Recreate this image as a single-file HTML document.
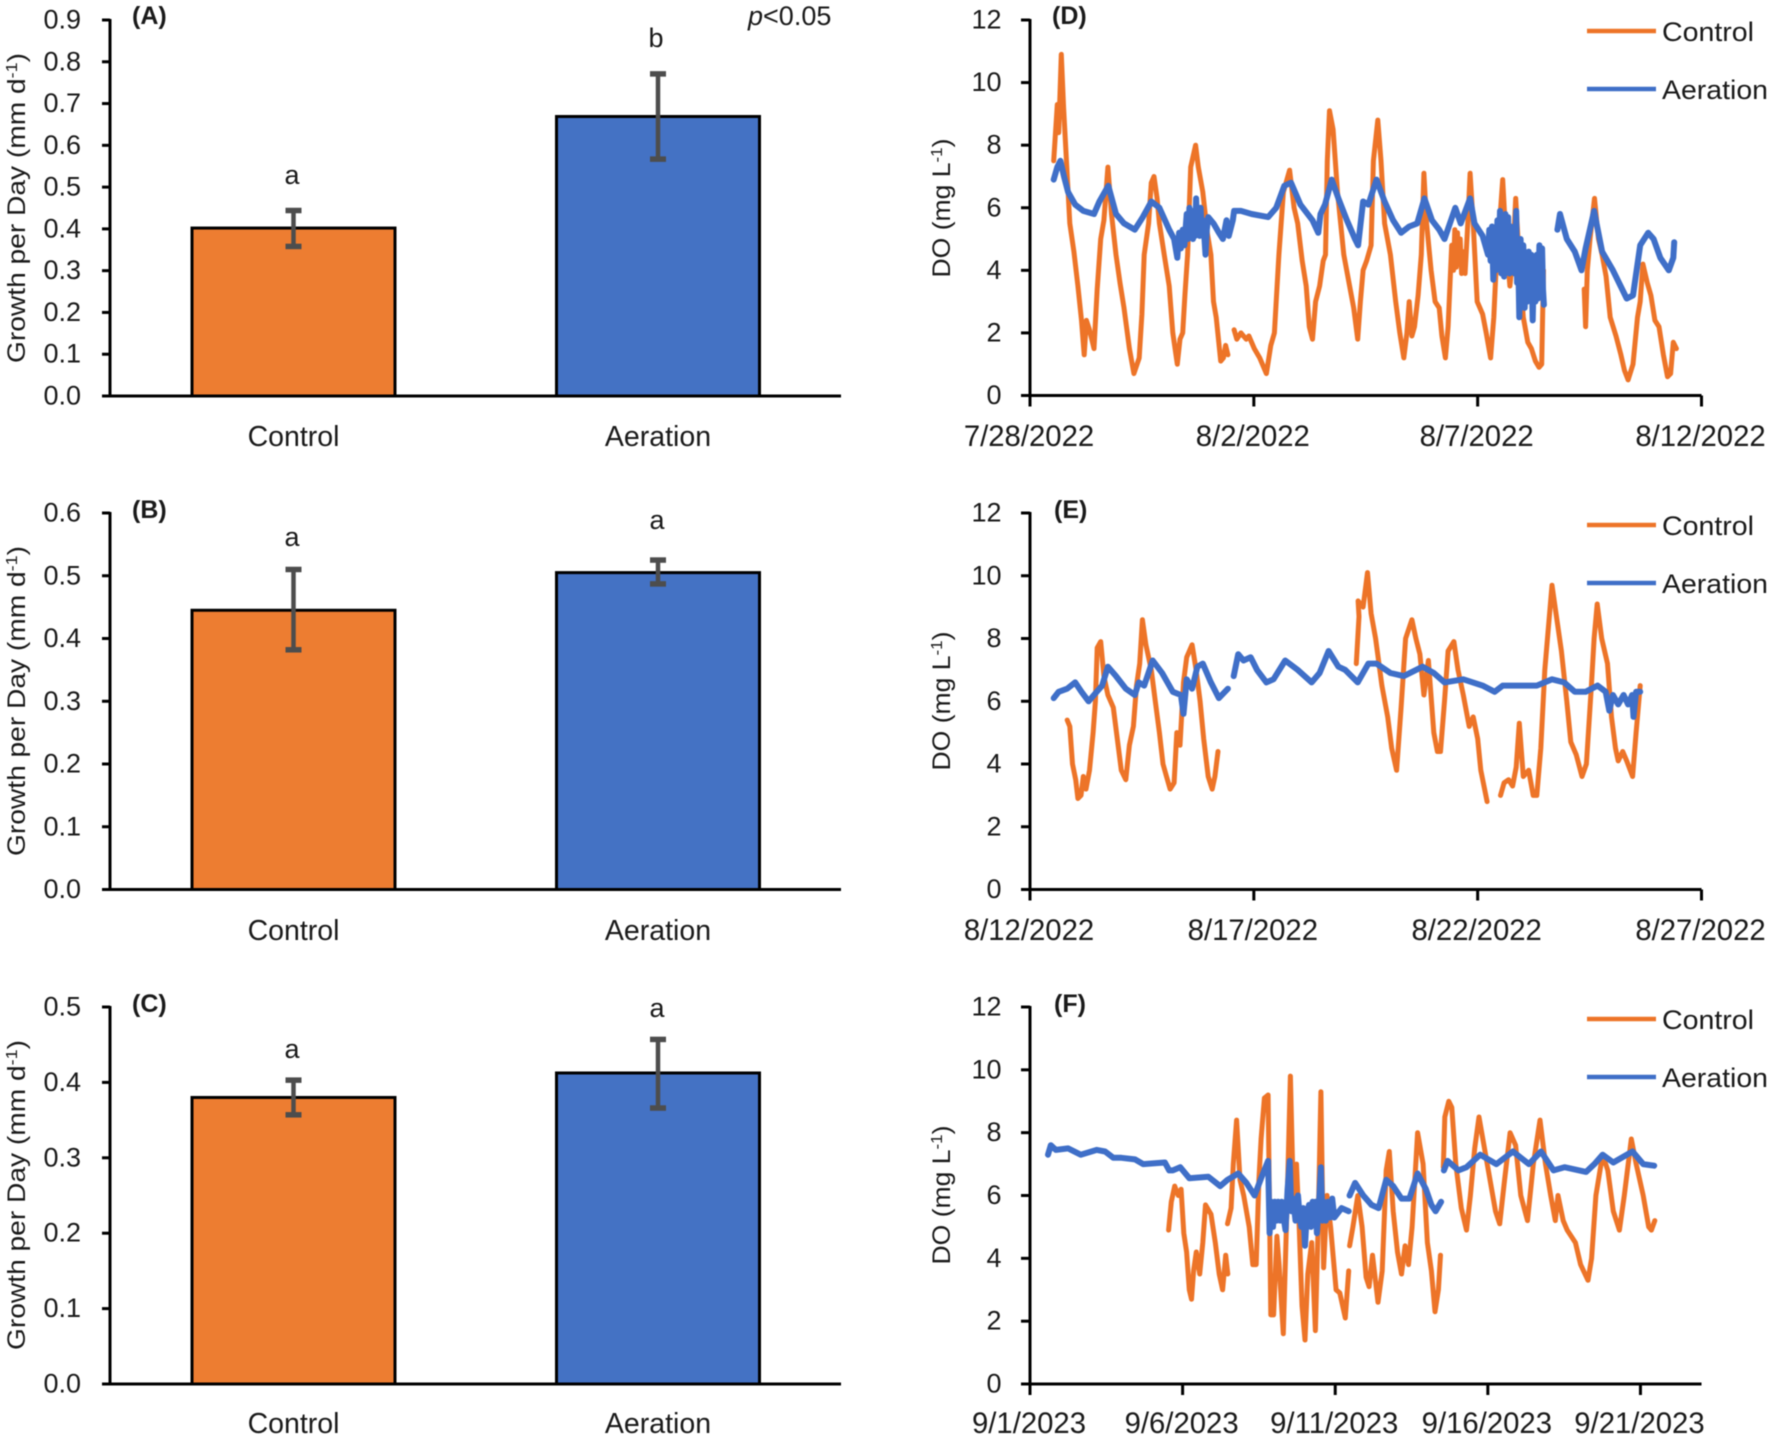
<!DOCTYPE html>
<html lang="en">
<head>
<meta charset="utf-8">
<title>Growth per day and dissolved oxygen, control vs aeration</title>
<style>
html,body{margin:0;padding:0;background:#fff;}
svg{display:block;filter:blur(0.45px);}
text{font-family:"Liberation Sans",sans-serif;fill:#1a1a1a;}
.lbl{font-size:27px;}
.panel{font-size:25px;font-weight:bold;}
.title{font-size:25px;}
</style>
</head>
<body>
<svg id="figure" xmlns="http://www.w3.org/2000/svg" width="1772" height="1442" viewBox="0 0 1772 1442">
<rect x="0" y="0" width="1772" height="1442" fill="#ffffff"/>

<g id="panel-a">
<text class="panel" x="132" y="24">(A)</text>
<text class="title" transform="translate(25,208) rotate(-90)" text-anchor="middle" textLength="310" lengthAdjust="spacingAndGlyphs">Growth per Day (mm d<tspan dy="-8" font-size="16">-1</tspan><tspan dy="8">)</tspan></text>
<text class="lbl" x="292" y="184" text-anchor="middle">a</text>
<text class="lbl" x="656" y="47" text-anchor="middle">b</text>
<text class="lbl" x="748" y="25"><tspan font-style="italic">p</tspan>&lt;0.05</text>
</g>

<g id="panel-b">
<text class="panel" x="132" y="518">(B)</text>
<text class="title" transform="translate(25,701) rotate(-90)" text-anchor="middle" textLength="310" lengthAdjust="spacingAndGlyphs">Growth per Day (mm d<tspan dy="-8" font-size="16">-1</tspan><tspan dy="8">)</tspan></text>
<text class="lbl" x="292" y="546" text-anchor="middle">a</text>
<text class="lbl" x="657" y="529" text-anchor="middle">a</text>
</g>

<g id="panel-c">
<text class="panel" x="132" y="1012">(C)</text>
<text class="title" transform="translate(25,1195) rotate(-90)" text-anchor="middle" textLength="310" lengthAdjust="spacingAndGlyphs">Growth per Day (mm d<tspan dy="-8" font-size="16">-1</tspan><tspan dy="8">)</tspan></text>
<text class="lbl" x="292" y="1058" text-anchor="middle">a</text>
<text class="lbl" x="657" y="1017" text-anchor="middle">a</text>
</g>

<g id="panel-d">
<text class="panel" x="1052" y="24">(D)</text>
<text class="title" transform="translate(950,208) rotate(-90)" text-anchor="middle" textLength="139" lengthAdjust="spacingAndGlyphs">DO (mg L<tspan dy="-8" font-size="16">-1</tspan><tspan dy="8">)</tspan></text>
<line x1="1587" x2="1656" y1="31" y2="31" stroke="#ed7428" stroke-width="4.5"/>
<text class="lbl" x="1662" y="41" textLength="92" lengthAdjust="spacingAndGlyphs">Control</text>
<line x1="1587" x2="1656" y1="89" y2="89" stroke="#3f6fc8" stroke-width="4.5"/>
<text class="lbl" x="1662" y="99" textLength="106" lengthAdjust="spacingAndGlyphs">Aeration</text>
</g>

<g id="panel-e">
<text class="panel" x="1054" y="518">(E)</text>
<text class="title" transform="translate(950,701) rotate(-90)" text-anchor="middle" textLength="139" lengthAdjust="spacingAndGlyphs">DO (mg L<tspan dy="-8" font-size="16">-1</tspan><tspan dy="8">)</tspan></text>
<line x1="1587" x2="1656" y1="525" y2="525" stroke="#ed7428" stroke-width="4.5"/>
<text class="lbl" x="1662" y="535" textLength="92" lengthAdjust="spacingAndGlyphs">Control</text>
<line x1="1587" x2="1656" y1="583" y2="583" stroke="#3f6fc8" stroke-width="4.5"/>
<text class="lbl" x="1662" y="593" textLength="106" lengthAdjust="spacingAndGlyphs">Aeration</text>
</g>

<g id="panel-f">
<text class="panel" x="1054" y="1012">(F)</text>
<text class="title" transform="translate(950,1195) rotate(-90)" text-anchor="middle" textLength="139" lengthAdjust="spacingAndGlyphs">DO (mg L<tspan dy="-8" font-size="16">-1</tspan><tspan dy="8">)</tspan></text>
<line x1="1587" x2="1656" y1="1019" y2="1019" stroke="#ed7428" stroke-width="4.5"/>
<text class="lbl" x="1662" y="1029" textLength="92" lengthAdjust="spacingAndGlyphs">Control</text>
<line x1="1587" x2="1656" y1="1077" y2="1077" stroke="#3f6fc8" stroke-width="4.5"/>
<text class="lbl" x="1662" y="1087" textLength="106" lengthAdjust="spacingAndGlyphs">Aeration</text>
</g>
</svg>

<script>
// ---------- Bar chart data ----------
const barCategories = ['Control', 'Aeration'];

const panelATicks = [0.0, 0.1, 0.2, 0.3, 0.4, 0.5, 0.6, 0.7, 0.8, 0.9];
const panelAMeans = [0.402, 0.669];
const panelALower = [0.358, 0.567];
const panelAUpper = [0.444, 0.771];

const panelBTicks = [0.0, 0.1, 0.2, 0.3, 0.4, 0.5, 0.6];
const panelBMeans = [0.445, 0.505];
const panelBLower = [0.382, 0.487];
const panelBUpper = [0.51, 0.525];

const panelCTicks = [0.0, 0.1, 0.2, 0.3, 0.4, 0.5];
const panelCMeans = [0.38, 0.4125];
const panelCLower = [0.357, 0.366];
const panelCUpper = [0.403, 0.457];

// ---------- Dissolved oxygen data (days since axis start, mg/L; null = logger gap) ----------
const doTicks = [0, 2, 4, 6, 8, 10, 12];

const panelDDateLabels = ['7/28/2022', '8/2/2022', '8/7/2022', '8/12/2022'];
const panelEDateLabels = ['8/12/2022', '8/17/2022', '8/22/2022', '8/27/2022'];
const panelFDateLabels = ['9/1/2023', '9/6/2023', '9/11/2023', '9/16/2023', '9/21/2023'];

const panelDControlDays = [0.53,0.61,0.64,0.70,0.75,0.89,0.98,1.07,1.15,1.21,1.26,1.33,1.43,1.50,1.58,1.65,1.74,1.82,1.92,2.01,2.10,2.22,2.32,2.44,2.50,2.55,2.65,2.71,2.77,2.84,2.89,3.01,3.11,3.19,3.29,3.35,3.41,3.46,3.52,3.59,3.70,3.76,3.86,3.96,4.04,4.10,4.16,4.26,4.32,4.37,4.42,4.50,
4.56,4.62,4.71,4.83,4.89,5.01,5.13,5.28,5.38,5.46,5.56,5.66,5.80,5.90,5.98,6.08,6.17,6.24,6.31,6.38,6.47,6.55,6.60,6.64,6.69,6.77,6.87,7.01,7.14,7.23,7.32,7.38,7.44,7.52,7.62,7.67,7.77,7.84,7.92,8.05,8.17,8.26,8.35,8.42,8.47,8.53,8.59,8.67,8.74,8.80,8.86,8.96,9.05,9.14,9.20,9.28,9.34,9.42,9.46,9.49,9.52,9.55,9.58,9.61,9.64,9.67,9.72,9.78,9.83,9.90,9.99,10.11,10.19,10.29,10.36,10.41,10.49,10.56,10.63,10.72,10.79,10.85,10.92,11.02,11.12,11.20,11.29,11.37,11.43,11.47,12.0,
12.38,12.41,12.45,12.51,12.61,12.70,12.78,12.87,12.96,13.09,13.20,13.28,13.36,13.47,13.57,13.63,13.69,13.79,13.87,13.96,14.05,14.15,14.24,14.31,14.37,14.44];
const panelDControlValues = [7.5,9.3,8.4,10.9,9.2,5.5,4.6,3.5,2.4,1.3,2.4,2.1,1.5,3.4,5,5.6,7.3,5.8,4.5,3.6,2.8,1.5,0.7,1.2,2.6,4.5,5.5,6.8,7.0,6.3,5.5,4.4,3.5,2,1.0,1.8,2.0,3.2,4.5,7.3,8.0,7.3,6.5,5.2,4.5,3,2.5,1.1,1.2,1.6,1.3,null,
2.1,1.8,2,1.8,1.9,1.5,1.2,0.7,1.6,2,4.5,6.5,7.2,6,5.5,4.3,3.5,2.2,1.8,3,3.5,4.3,4.5,7.5,9.1,8.5,6.5,4.5,3.5,2.8,1.8,3,4,4.3,4.8,7.5,8.8,7.5,5.5,4.5,3,2,1.2,2,3,1.9,2.2,3.2,4.5,7.1,5.5,4,3,2.8,1.9,1.2,2.2,4.8,4.0,5.3,4.1,5.2,4.2,5,3.9,4.6,3.9,5.5,7.1,5.5,3,2.6,2,1.2,2.5,4,5.5,6.9,5,3.5,4.5,6.3,4.5,2.5,1.7,1.5,1.1,0.9,1,4,null,
3.4,2.2,4,5,6.3,5,4.5,3.8,2.5,1.9,1.3,0.8,0.5,1,2.5,3,4.2,3.6,3.2,2.4,2.2,1.3,0.6,0.7,1.7,1.5];

const panelDAerationDays = [0.53,0.61,0.68,0.76,0.85,1.01,1.19,1.43,1.55,1.75,1.92,2.10,2.34,2.52,2.71,2.89,3.11,3.22,
3.29,3.33,3.37,3.41,3.45,3.50,3.53,3.56,3.59,3.62,3.64,3.66,3.69,3.71,3.74,3.76,3.79,3.81,3.84,3.86,3.89,3.92,3.95,3.98,
4.10,4.22,4.31,4.39,4.44,4.53,4.56,4.71,4.95,5.32,5.50,5.68,5.83,6.04,6.31,6.44,6.49,6.59,6.74,6.89,7.08,7.26,7.33,7.44,7.56,7.74,7.92,8.11,8.29,8.47,8.65,8.81,8.98,9.14,9.26,9.50,9.62,9.83,9.93,10.11,
10.23,10.26,10.29,10.32,10.35,10.38,10.41,10.44,10.47,10.50,10.53,10.56,10.59,10.62,10.65,10.68,10.71,10.74,10.77,10.80,10.83,10.86,10.88,10.90,10.93,10.96,10.99,11.02,11.05,11.08,11.11,11.14,11.17,11.20,11.23,11.26,11.29,11.32,11.35,11.38,11.41,11.44,11.46,11.48,11.6,
11.78,11.84,11.99,12.17,12.32,12.41,12.60,12.78,13.02,13.33,13.47,13.63,13.81,13.93,14.08,14.27,14.37,14.39];
const panelDAerationValues = [6.9,7.3,7.5,7,6.5,6.1,5.9,5.8,6.2,6.7,5.8,5.5,5.3,5.7,6.2,6,5.3,5,
4.4,5.2,4.7,5.3,4.8,5.8,5.0,6.0,5.2,5.7,5.0,5.9,5.1,6.3,5.2,5.9,5.1,6,5.2,5.6,5.2,4.5,5.3,5.7,
5.5,5.2,5,5.6,5.1,5.6,5.9,5.9,5.8,5.7,6,6.7,6.8,6.1,5.6,5.2,5.8,6.1,6.9,6.3,5.6,5,4.8,6.2,6.1,6.9,6.2,5.6,5.2,5.4,5.5,6.3,5.6,5.3,5,6,5.5,6.3,5.5,5.1,
4.5,5.3,4.3,5.4,3.7,5.0,4.0,5.6,4.2,5.9,3.9,5.6,3.8,5.8,4.0,5.7,3.9,5.4,4.1,5.2,3.9,5.9,3.6,4.8,2.5,5.0,3.2,4.8,2.8,4.5,3.0,4.6,3.3,4.5,2.4,4.3,3.0,4.5,3.1,4.8,3.2,4.7,3.4,2.9,null,
5.3,5.8,5,4.6,4,4.7,5.9,4.6,4,3.1,3.2,4.8,5.2,5,4.4,4,4.4,4.9];

const panelEControlDays = [0.83,0.89,0.95,1.02,1.07,1.14,1.19,1.25,1.33,1.41,1.46,1.50,1.58,1.65,1.74,1.86,1.95,2.04,2.14,2.22,2.31,2.38,2.45,2.51,2.59,2.71,2.80,2.89,2.97,3.05,3.13,3.22,3.28,3.35,3.43,3.50,3.62,3.71,3.80,3.88,3.98,4.07,4.13,4.20,5.5,
7.29,7.35,7.33,7.44,7.54,7.62,7.72,7.86,7.99,8.08,8.19,8.29,8.39,8.53,8.62,8.71,8.80,8.90,9.02,9.10,9.17,9.26,9.34,9.47,9.56,9.68,9.81,9.90,10.0,10.07,10.21,10.4,
10.51,10.59,10.69,10.78,10.86,10.93,11.02,11.14,11.24,11.32,11.41,11.50,11.59,11.66,11.75,11.87,11.99,12.08,12.20,12.33,12.43,12.54,12.60,12.67,12.77,12.90,12.99,13.08,13.14,13.24,13.33,13.46,13.54,13.63];
const panelEControlValues = [5.4,5.2,4,3.5,2.9,3.0,3.6,3.2,3.8,5,6,7.7,7.9,6.8,6.2,5.8,4.8,3.8,3.5,4.6,5.2,6.5,7.2,8.6,7.8,7,6,5,4,3.6,3.2,3.4,5,4.6,6.6,7.4,7.8,7,6,4.8,3.6,3.2,3.6,4.4,null,
7.2,8.7,9.2,9.0,10.1,8.8,8,6.5,5.5,4.5,3.8,5.8,8,8.6,8,7.5,6.2,7.3,5,4.4,4.4,6,7.6,7.9,7,6.2,5.2,5.5,4.8,3.8,2.8,null,
3.0,3.4,3.5,3.3,3.9,5.3,3.6,3.8,3.0,3.0,4.5,7,8.5,9.7,8.8,7.6,6,4.7,4.3,3.6,4,6.5,8,9.1,8,7.2,5.5,4.5,4.1,4.4,4.1,3.6,5,6.5];

const panelEAerationDays = [0.53,0.64,0.83,1.01,1.15,1.31,1.49,1.61,1.74,1.92,2.14,2.34,2.43,2.55,2.74,2.95,3.19,3.37,3.43,3.50,3.62,3.74,3.86,4.04,4.22,4.42,4.5,
4.55,4.65,4.77,4.93,5.07,5.28,5.44,5.70,5.98,6.29,6.47,6.67,6.89,7.04,7.32,7.56,7.74,8.05,8.35,8.77,9.02,9.26,9.68,10.11,10.38,10.56,10.96,11.32,11.66,11.93,12.17,12.41,12.68,12.86,12.94,13.02,13.14,13.26,13.36,13.45,13.48,13.54,13.63];
const panelEAerationValues = [6.1,6.3,6.4,6.6,6.3,6,6.3,6.5,7.1,6.8,6.4,6.2,6.6,6.5,7.3,6.9,6.3,6.2,5.6,6.7,6.4,7.1,7.2,6.6,6.1,6.4,null,
6.8,7.5,7.3,7.4,7,6.6,6.7,7.3,7,6.6,6.9,7.6,7.1,7,6.6,7.2,7.2,6.9,6.8,7.1,6.9,6.6,6.7,6.5,6.3,6.5,6.5,6.5,6.7,6.6,6.3,6.3,6.5,6.3,5.7,6.2,5.9,6.2,5.9,6.2,5.5,6.3,6.3];

const panelFControlDays = [4.54,4.63,4.74,4.86,4.95,5.04,5.13,5.22,5.29,5.36,5.45,5.56,5.66,5.75,5.93,6.07,6.20,6.31,6.41,6.48,6.47,
6.47,6.59,6.66,6.77,6.88,7.00,7.18,7.30,7.41,7.50,7.57,7.68,7.80,7.89,7.98,8.09,8.16,8.30,8.43,8.53,8.64,8.73,8.82,8.91,9.01,9.10,9.23,9.35,9.44,9.53,9.62,9.73,9.85,10.03,10.15,10.33,10.44,10.45,
10.47,10.58,10.74,10.88,11.01,11.11,11.22,11.40,11.54,11.67,11.77,11.90,12.04,12.17,12.29,12.40,12.52,12.70,12.88,13.02,13.15,13.27,13.38,13.45,13.5,
13.54,13.59,13.72,13.82,13.95,14.13,14.30,14.43,14.57,14.71,14.89,15.07,15.25,15.39,15.55,15.73,15.91,16.08,16.30,16.49,16.71,16.89,17.06,17.21,17.30,17.47,17.60,17.87,18.04,18.28,18.40,18.54,18.76,18.93,19.11,19.31,19.47,19.70,19.86,20.09,20.27,20.36,20.47];
const panelFControlValues = [4.9,5.8,6.3,6,6.2,4.8,4.2,3,2.7,3.6,4.2,3.5,4.5,5.7,5.4,4.5,3.5,3,4.1,3.5,null,
5.1,5.6,7,8.4,6.5,6,5,3.8,3.8,6.5,7.8,9.1,9.2,2.2,2.2,4.7,3.8,1.6,6,9.8,5.5,7,5,2.5,1.4,3.5,4.5,1.7,5,9.3,3.7,6,5,3,2.9,2.1,3.6,null,
4.4,5,6,5,3.4,3.1,4.1,2.6,3.6,6.8,7.4,5.5,4.2,3.5,4.4,3.8,5,8,7,4.5,3.6,2.3,3,4.1,null,
6.9,8.5,9,8.8,7,5.6,4.9,6,7.5,8.5,7.5,6.5,5.5,5.1,6.5,8,7.6,6,5.2,7,8.4,7,6,5.2,6,5.2,4.9,4.5,3.8,3.3,4,6,7.3,6.8,5.5,4.9,6,7.8,7,6,5,4.9,5.2];

const panelFAerationDays = [0.59,0.68,0.85,1.25,1.66,2.19,2.46,2.73,2.99,3.44,3.71,4.42,4.56,4.68,4.92,5.22,5.84,6.23,6.47,6.82,7.09,7.36,7.59,
7.80,7.85,7.91,7.96,8.02,8.08,8.13,8.19,8.25,8.31,8.37,8.44,8.51,8.56,8.62,8.70,8.78,8.84,8.89,8.95,9.01,9.07,9.14,9.20,9.26,9.32,9.36,9.40,9.47,9.53,9.58,9.62,9.69,9.76,9.83,9.90,9.97,
10.21,10.44,10.45,
10.47,10.65,10.92,11.19,11.42,11.67,11.90,12.17,12.43,12.70,12.97,13.15,13.29,13.47,13.5,
13.56,13.68,14.04,14.30,14.75,15.28,15.82,16.35,16.74,17.15,17.51,18.22,18.49,18.76,19.11,19.74,20.09,20.45];
const panelFAerationValues = [7.3,7.6,7.45,7.5,7.3,7.45,7.4,7.2,7.2,7.15,7,7.05,6.8,6.8,6.9,6.55,6.6,6.3,6.5,6.7,6.4,6,6.6,
7.1,4.8,5.8,5.0,5.8,5.2,5.8,5.2,5.8,5.3,4.9,6.2,7.1,5.5,5.9,5.2,6,5.3,5,5.6,4.4,5.4,5.7,5,5.8,5.2,5.8,4.8,5.8,6.9,5.2,5.8,5.2,5.8,5.3,5.9,5.3,
5.6,5.5,null,
6,6.4,6,5.7,5.6,6.5,6.3,5.9,5.9,6.7,6.2,5.7,5.5,5.8,null,
6.8,7.1,6.8,6.9,7.3,7,7.4,7,7.4,6.8,6.9,6.75,7,7.3,7.05,7.4,7,6.95];

// ---------- Drawing ----------
const NS = 'http://www.w3.org/2000/svg';
const ORANGE_BAR = '#ed7d31', BLUE_BAR = '#4472c4';
const ORANGE_LINE = '#ed7428', BLUE_LINE = '#3f6fc8';

function make(parent, tag, attrs, content) {
  const node = document.createElementNS(NS, tag);
  for (const k in attrs) node.setAttribute(k, attrs[k]);
  if (content !== undefined) node.textContent = content;
  parent.appendChild(node);
  return node;
}

function linearScale(d0, d1, r0, r1) {
  return function (v) { return r0 + (v - d0) / (d1 - d0) * (r1 - r0); };
}

function drawBarPanel(id, key, ticks, means, lower, upper, yTop, yBase, catBaseline) {
  const g = document.getElementById(id);
  const maxTick = ticks[ticks.length - 1];
  const y = linearScale(0, maxTick, yBase, yTop);
  const bandLeft = [192, 556.5];
  const barWidth = 203;
  const colors = [ORANGE_BAR, BLUE_BAR];

  means.forEach(function (m, i) {
    const bar = make(g, 'rect', {x: bandLeft[i], y: y(m), width: barWidth, height: yBase - y(m), fill: colors[i], stroke: '#000', 'stroke-width': 3});
    
    
  });
  means.forEach(function (m, i) {
    const cx = bandLeft[i] + barWidth / 2;
    const stem = make(g, 'line', {x1: cx, x2: cx, y1: y(lower[i]), y2: y(upper[i]), stroke: '#4d4d4d', 'stroke-width': 4.5});
    
    
    [lower[i], upper[i]].forEach(function (v) {
      const cap = make(g, 'line', {x1: cx - 8, x2: cx + 8, y1: y(v), y2: y(v), stroke: '#4d4d4d', 'stroke-width': 5.5});
      
      
    });
    const cat = make(g, 'text', {x: cx, y: catBaseline, 'text-anchor': 'middle', 'font-size': 28.5}, barCategories[i]);
    
    
  });

  const yAxis = make(g, 'line', {x1: 110, x2: 110, y1: yTop - 1, y2: yBase, stroke: '#000', 'stroke-width': 3});
  
  
  const xAxis = make(g, 'line', {x1: 102, x2: 841, y1: yBase, y2: yBase, stroke: '#000', 'stroke-width': 3});
  
  

  ticks.forEach(function (t) {
    const mark = make(g, 'line', {x1: 102, x2: 110, y1: y(t), y2: y(t), stroke: '#000', 'stroke-width': 3});
    
    
    const label = make(g, 'text', {x: 81, y: y(t) + 8.5, 'text-anchor': 'end', 'font-size': 27}, t.toFixed(1));
    
    
  });
}

function buildPath(days, values, x, y) {
  let d = '', pen = false;
  values.forEach(function (v, i) {
    if (v === null) { pen = false; return; }
    d += (pen ? 'L' : 'M') + x(days[i]).toFixed(1) + ' ' + y(v).toFixed(1);
    pen = true;
  });
  return d;
}

function drawLinePanel(id, key, yTop, yBase, maxDay, dateLabels, labelBaseline, cDays, cVals, aDays, aVals) {
  const g = document.getElementById(id);
  const x = linearScale(0, maxDay, 1030, 1701.5);
  const y = linearScale(0, 12, yBase, yTop);

  const control = make(g, 'path', {d: buildPath(cDays, cVals, x, y), fill: 'none', stroke: ORANGE_LINE, 'stroke-width': 5, 'stroke-linejoin': 'round', 'stroke-linecap': 'round'});
  
  
  const aeration = make(g, 'path', {d: buildPath(aDays, aVals, x, y), fill: 'none', stroke: BLUE_LINE, 'stroke-width': 6, 'stroke-linejoin': 'round', 'stroke-linecap': 'round'});
  
  

  const yAxis = make(g, 'line', {x1: 1030, x2: 1030, y1: yTop - 1, y2: yBase, stroke: '#000', 'stroke-width': 3});
  
  
  const xAxis = make(g, 'line', {x1: 1021, x2: 1701.5, y1: yBase, y2: yBase, stroke: '#000', 'stroke-width': 3});
  
  

  doTicks.forEach(function (t) {
    const mark = make(g, 'line', {x1: 1021, x2: 1030, y1: y(t), y2: y(t), stroke: '#000', 'stroke-width': 3});
    
    
    const label = make(g, 'text', {x: 1001.5, y: y(t) + 8.5, 'text-anchor': 'end', 'font-size': 27}, String(t));
    
    
  });

  dateLabels.forEach(function (text, i) {
    const day = i * 5;
    const mark = make(g, 'line', {x1: x(day), x2: x(day), y1: yBase, y2: yBase + 11, stroke: '#000', 'stroke-width': 3});
    
    
    const label = make(g, 'text', {x: x(day) - 1, y: labelBaseline, 'text-anchor': 'middle', 'font-size': 29.3}, text);
    
    
  });
}

drawBarPanel('panel-a', 'a', panelATicks, panelAMeans, panelALower, panelAUpper, 20, 396, 446);
drawBarPanel('panel-b', 'b', panelBTicks, panelBMeans, panelBLower, panelBUpper, 513, 889.5, 940);
drawBarPanel('panel-c', 'c', panelCTicks, panelCMeans, panelCLower, panelCUpper, 1007, 1384, 1433);

drawLinePanel('panel-d', 'd', 20, 395.5, 15, panelDDateLabels, 446, panelDControlDays, panelDControlValues, panelDAerationDays, panelDAerationValues);
drawLinePanel('panel-e', 'e', 513, 889.5, 15, panelEDateLabels, 940, panelEControlDays, panelEControlValues, panelEAerationDays, panelEAerationValues);
drawLinePanel('panel-f', 'f', 1007, 1384, 22, panelFDateLabels, 1433, panelFControlDays, panelFControlValues, panelFAerationDays, panelFAerationValues);
</script>
</body>
</html>
